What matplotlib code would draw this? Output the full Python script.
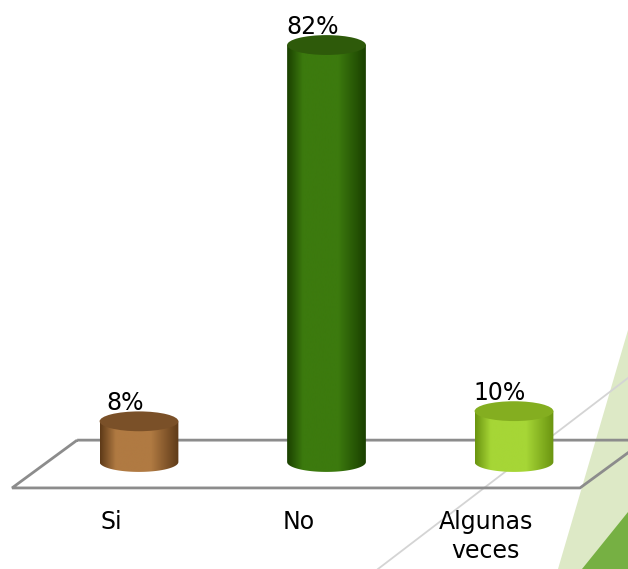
import numpy as np
import matplotlib.pyplot as plt
from matplotlib.patches import Ellipse, Polygon, PathPatch
from matplotlib.path import Path
from matplotlib.colors import LinearSegmentedColormap

# data
categories = ['Si', 'No', 'Algunas\nveces']
values = [8, 82, 10]
labels = ['8%', '82%', '10%']

# cylinder colours: (edge, centre, top)
bar_colors = [
    ('#5e3a18', '#b07a42', '#7a5028'),
    ('#1a4000', '#3c7a0e', '#2e5a0a'),
    ('#6a9410', '#a6d636', '#84ae20'),
]

font = ['DejaVu Sans']

fig = plt.figure(figsize=(6.28, 5.69), dpi=100)

# slide decoration in pixel coordinates
bg = fig.add_axes([0, 0, 1, 1], zorder=0)
bg.set_xlim(0, 628)
bg.set_ylim(569, 0)
bg.axis('off')
bg.add_patch(Polygon([(628, 330), (558, 569), (628, 569)], closed=True,
                     color='#dde9c6', lw=0))
bg.add_patch(Polygon([(628, 512), (582, 569), (628, 569)], closed=True,
                     color='#76b043', lw=0))
bg.plot([378, 628], [569, 378], color='#d4d4d4', lw=1.3)

# chart axes: x in category index, y in percent
ax = fig.add_axes([0, 0, 1, 1], zorder=1)
ax.patch.set_alpha(0)
px_per_pct = 5.085
base_px = 462
x0_px, step_px = 139, 187.5
ylo = -(569 - base_px) / px_per_pct
yhi = base_px / px_per_pct
xlo = -x0_px / step_px
xhi = (628 - x0_px) / step_px

# floor
floor = [(-0.33, 4.3), (2.70, 4.3), (2.352, -5.1), (-0.677, -5.1)]
ax.add_patch(Polygon(floor, closed=True, fill=False, ec='#8c8c8c', lw=2,
                     zorder=1))

w = 0.42
eh = 3.9
t = np.linspace(np.pi, 2 * np.pi, 60)
for i, (v, (ce, cc, ct)) in enumerate(zip(values, bar_colors)):
    x = i
    verts = [(x - w / 2, v), (x - w / 2, 0)]
    verts += [(x + w / 2 * np.cos(a), eh / 2 * np.sin(a)) for a in t]
    verts += [(x + w / 2, v), (x - w / 2, v)]
    codes = [Path.MOVETO] + [Path.LINETO] * (len(verts) - 2) + [Path.CLOSEPOLY]
    body = PathPatch(Path(verts, codes), fc='none', ec='none')
    ax.add_patch(body)
    cmap = LinearSegmentedColormap.from_list('c%d' % i, [ce, cc, cc, ce])
    grad = np.linspace(0, 1, 200).reshape(1, -1)
    grad = np.interp(grad, [0, 0.3, 0.6, 1], [0, 0.5, 0.62, 1])
    im = ax.imshow(grad, cmap=cmap, aspect='auto', zorder=2,
                   extent=[x - w / 2, x + w / 2, -eh / 2, v],
                   interpolation='bilinear')
    im.set_clip_path(body)
    ax.add_patch(Ellipse((x, v), w, eh, fc=ct, ec='none', zorder=3))
    ax.text(x - 0.075, v + eh / 2 + 0.3, labels[i], ha='center',
            va='baseline', fontsize=17, family=font, color='black', zorder=4)
    ax.text(x - 0.15, -9.4, categories[i], ha='center', va='top',
            fontsize=17, family=font, color='black', linespacing=1.3,
            zorder=4)

ax.set_xlim(xlo, xhi)
ax.set_ylim(ylo, yhi)
ax.axis('off')

fig.savefig('out.png', dpi=100)
